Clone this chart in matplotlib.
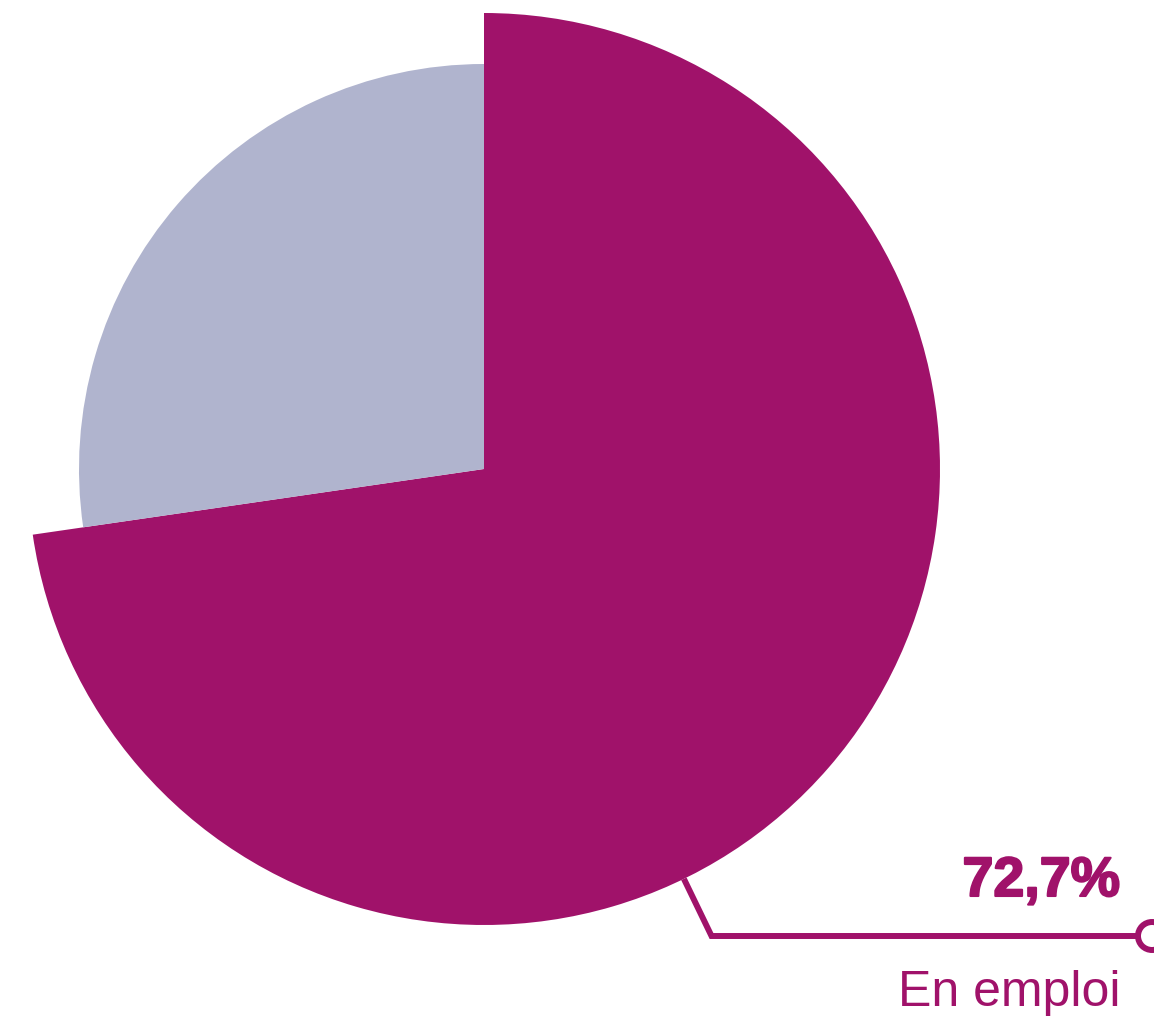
import numpy as np
import matplotlib
matplotlib.use("Agg")
import matplotlib.pyplot as plt
from matplotlib.patches import Circle
import matplotlib.patheffects as pe

# Data
categories = ["En emploi", "Autre"]
values = [72.7, 27.3]
value_labels = ["72,7%", ""]

MAGENTA = "#A0126A"
LAVENDER = "#B0B4CE"

W, H = 1154, 1026
fig = plt.figure(figsize=(W / 100, H / 100), dpi=100)
ax = fig.add_axes([0, 0, 1, 1])

cx, cy = 484, H - 469
R_big, R_small = 456, 405

ax.pie(values, radius=R_big, center=(cx, cy), startangle=90, counterclock=False,
       colors=[MAGENTA, "none"], wedgeprops=dict(linewidth=0))
ax.pie(values, radius=R_small, center=(cx, cy), startangle=90, counterclock=False,
       colors=["none", LAVENDER], wedgeprops=dict(linewidth=0))

ax.set_xlim(0, W)
ax.set_ylim(0, H)
ax.set_aspect("equal")
ax.axis("off")

# Callout for first slice
ang = np.deg2rad(90 - 154)  # anchor angle (math convention)
x0 = cx + R_big * np.cos(ang)
y0 = cy + R_big * np.sin(ang)
x1 = cx + (R_big + 63) * np.cos(ang)
y1 = H - 936
x2 = 1140
ax.plot([x0, x1, x2], [y0, y1, y1], color=MAGENTA, lw=4.3,
        solid_joinstyle="miter", solid_capstyle="butt", zorder=3)
ax.add_patch(Circle((1152, y1), 14, facecolor="white", edgecolor=MAGENTA,
                    lw=4.3, zorder=4))

ax.text(1120, y1 + 40, value_labels[0], ha="right", va="baseline",
        fontsize=40, fontweight="heavy", family="Liberation Sans",
        color=MAGENTA,
        path_effects=[pe.withStroke(linewidth=1.5, foreground=MAGENTA)])
ax.text(1120, y1 - 34, categories[0], ha="right", va="top",
        fontsize=36, family="Liberation Sans", color=MAGENTA)

fig.savefig("out.png", dpi=100)
